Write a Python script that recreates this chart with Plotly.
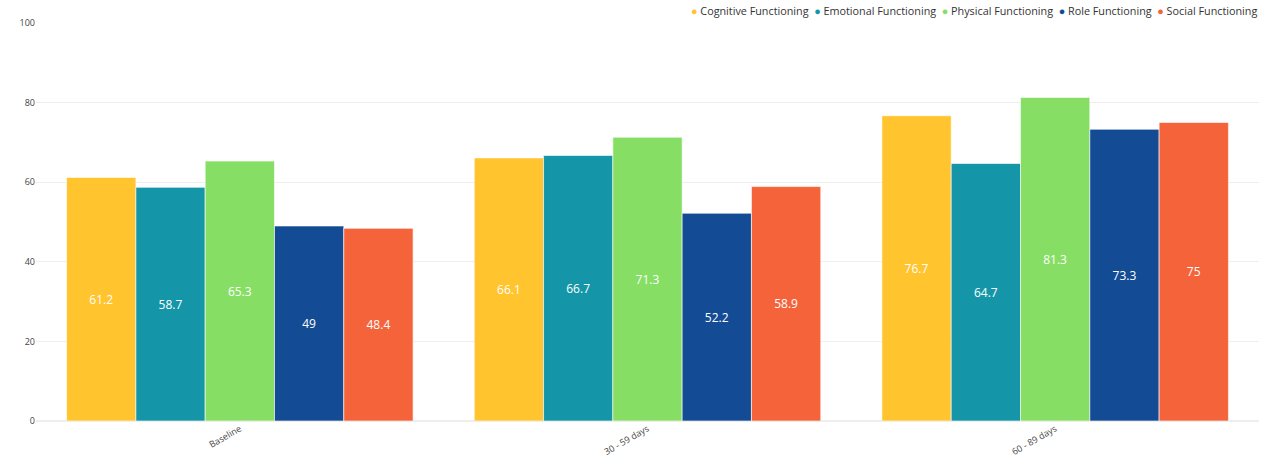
import plotly.graph_objects as go

categories = ["Baseline", "30 - 59 days", "60 - 89 days"]
series_names = ["Cognitive Functioning", "Emotional Functioning", "Physical Functioning",
                "Role Functioning", "Social Functioning"]
cognitive = [61.2, 66.1, 76.7]
emotional = [58.7, 66.7, 64.7]
physical = [65.3, 71.3, 81.3]
role = [49, 52.2, 73.3]
social = [48.4, 58.9, 75]
colors = ["#FFC42E", "#1596A8", "#86DE65", "#134C94", "#F5633A"]
y_ticks = [0, 20, 40, 60, 80, 100]

values = [cognitive, emotional, physical, role, social]

fig = go.Figure()
for name, vals, col in zip(series_names, values, colors):
    fig.add_trace(go.Bar(
        x=categories, y=vals, name=name, showlegend=False,
        marker=dict(color=col, line=dict(color="rgba(255,255,255,0.6)", width=1)),
        text=[str(v) for v in vals], textposition="inside", insidetextanchor="middle",
        textfont=dict(color="white", size=12, family="Open Sans"),
        hoverinfo="x+y+name",
    ))

legend_html = "&nbsp;&nbsp;".join(
    f"<span style='color:{c}'>●</span> {n}" for n, c in zip(series_names, colors)
)
fig.add_annotation(
    text=legend_html, xref="paper", yref="paper", x=1.0, y=1.0,
    xanchor="right", yanchor="bottom", yshift=3, showarrow=False,
    font=dict(size=10.8, color="#333", family="Open Sans"),
)

fig.update_layout(
    width=1276, height=468,
    margin=dict(l=36, r=17, t=23, b=47, autoexpand=False),
    barmode="group", bargap=0.15, bargroupgap=0,
    plot_bgcolor="white", paper_bgcolor="white",
    font=dict(family="Open Sans", size=11, color="#333"),
    showlegend=False,
)
fig.update_xaxes(tickangle=-30, tickfont=dict(size=9, color="#444"), showgrid=False,
                 showline=False, ticks="")
fig.update_yaxes(range=[0, 100], tickvals=y_ticks, tickfont=dict(size=9, color="#444"),
                 gridcolor="#EEEEEE", zeroline=True, zerolinecolor="#EEEEEE",
                 showline=False, ticks="")

fig.write_html("out.html")
